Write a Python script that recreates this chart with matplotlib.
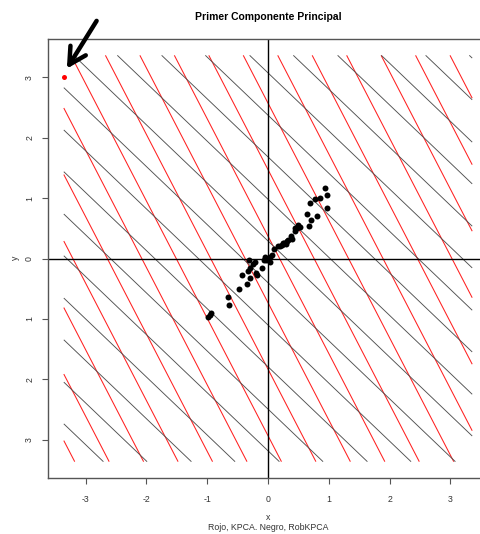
import numpy as np
import matplotlib
matplotlib.use("Agg")
import matplotlib.pyplot as plt

plt.rcParams['font.family'] = ['Liberation Sans', 'DejaVu Sans']
plt.rcParams['axes.unicode_minus'] = False

# data points (RobKPCA sample)
pts_x = [0.94, 0.97, 0.86, 0.77, 0.69, 0.97, 0.64, 0.80, 0.71, 0.68, 0.50, 0.47,
         0.44, 0.45, 0.38, 0.40, 0.31, 0.27, 0.23, 0.25, 0.20, 0.17, 0.30, 0.10,
         0.03, 0.00, -0.03, -0.05, 0.04, -0.07, -0.10, -0.21, -0.24, -0.32, -0.33,
         -0.30, -0.18, -0.20, -0.29, -0.42, -0.35, -0.47, -0.65, -0.64, -0.93,
         -0.98, -0.95, 0.06, 0.33, 0.52]
pts_y = [1.17, 1.05, 1.00, 0.99, 0.91, 0.84, 0.74, 0.70, 0.64, 0.53, 0.56, 0.50,
         0.51, 0.45, 0.38, 0.33, 0.29, 0.25, 0.22, 0.26, 0.21, 0.20, 0.24, 0.15,
         0.03, 0.00, -0.03, 0.02, -0.05, -0.02, -0.15, -0.06, -0.09, -0.03, -0.20,
         -0.16, -0.28, -0.24, -0.32, -0.28, -0.42, -0.50, -0.63, -0.77, -0.90,
         -0.96, -0.93, 0.05, 0.30, 0.52]
outlier_x = [-3.36]
outlier_y = [3.0]

# contour functions f = a*x + y and their levels
red_a = 1.94
red_levels = [-9.53, -8.43, -7.33, -6.23, -5.13, -4.03, -2.93, -1.83, -0.73,
              0.37, 1.47, 2.57, 3.67, 4.77, 5.87, 6.97, 8.07, 9.17]
black_a = 0.96
black_levels = [-5.96, -5.27, -4.57, -3.88, -3.18, -2.49, -1.79, -1.10, -0.40,
                0.29, 0.98, 1.68, 2.37, 3.07, 3.76, 4.46, 5.15, 5.85, 6.54]
grid_lim = 3.36

x_ticks = [-3, -2, -1, 0, 1, 2, 3]
y_ticks = [-3, -2, -1, 0, 1, 2, 3]
y_ticklabels = ['3', '2', '1', '0', '1', '2', '3']

W, H = 480, 534
fig = plt.figure(figsize=(W / 100, H / 100), dpi=100)
ax = fig.add_axes([48 / W, 56 / H, 440 / W, 439 / H])

g = np.linspace(-grid_lim, grid_lim, 200)
GX, GY = np.meshgrid(g, g)
ax.contour(GX, GY, red_a * GX + GY, levels=red_levels, colors='#ff2020',
           linewidths=0.75, linestyles='solid')
ax.contour(GX, GY, black_a * GX + GY, levels=black_levels, colors='#505050',
           linewidths=0.65, linestyles='solid')

ax.axhline(0, color='black', lw=1.0)
ax.axvline(0, color='black', lw=1.0)

ax.plot(pts_x, pts_y, 'o', color='black', ms=4.3, mew=0)
ax.plot(outlier_x, outlier_y, 'o', color='red', ms=3.6, mew=0)

# hand-drawn style arrow pointing at the outlier
ax.annotate('', xy=(-3.31, 3.14), xytext=(-2.82, 3.93), annotation_clip=False,
            arrowprops=dict(arrowstyle='->,head_length=1.2,head_width=0.65',
                            color='black', lw=3.2, shrinkA=0, shrinkB=0))

ax.set_xlim(-3.62, 3.62)
ax.set_ylim(-3.63, 3.63)
ax.set_xticks(x_ticks)
ax.set_yticks(y_ticks)
ax.set_yticklabels(y_ticklabels, rotation=90, va='center')
ax.tick_params(axis='both', length=4, width=0.8, color='#555555', labelsize=6.3,
               labelcolor='#333333')
ax.tick_params(axis='x', pad=8)
ax.tick_params(axis='y', pad=6)
for s in ax.spines.values():
    s.set_color('#555555')
    s.set_linewidth(1.0)

fig.text(268 / W, 1 - 17 / H, 'Primer Componente Principal', ha='center', va='center',
         fontsize=7.5, fontweight='bold')
fig.text(15 / W, 1 - 258 / H, 'y', rotation=90, ha='center', va='center', fontsize=6.3,
         color='#333333')
fig.text(268 / W, 1 - 517 / H, 'x', ha='center', va='center', fontsize=6.3, color='#333333')
fig.text(268 / W, 1 - 528 / H, 'Rojo, KPCA. Negro, RobKPCA', ha='center', va='center',
         fontsize=6.3, color='#333333')

fig.savefig('out.png', dpi=100)
